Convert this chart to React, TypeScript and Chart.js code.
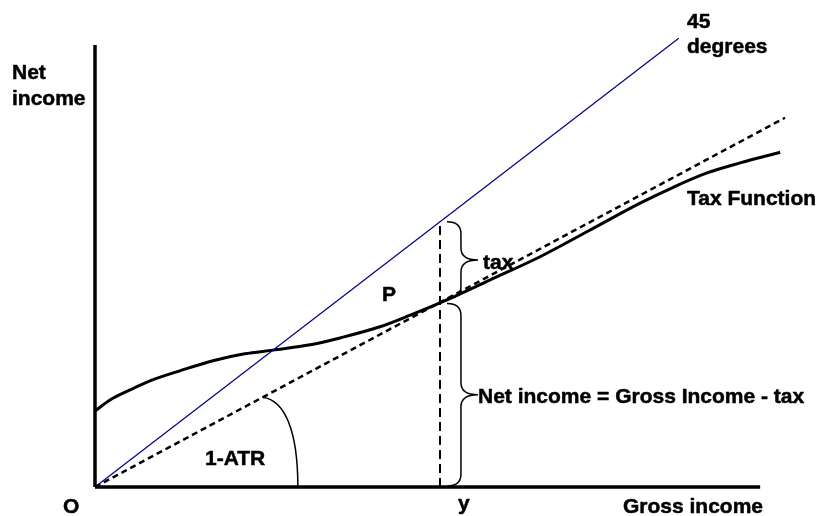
import React, { useEffect, useRef } from "react";
import { Chart, registerables } from "chart.js";

Chart.register(...registerables);

// Tax function curve (gross income -> net income)
const grossIncome = [0, 2.17, 5.07, 7.97, 12.3, 17.1, 21.7, 25.8, 31.2, 35.5, 41.3, 45.7, 50, 57.2, 64.5, 71.7, 79.0, 83.8, 88.7, 93.5, 99.3];
const netIncome = [14.3, 16.4, 18.3, 20.0, 21.9, 23.8, 25.1, 25.8, 26.8, 28.1, 30.2, 32.4, 34.7, 39.0, 43.4, 48.4, 53.5, 56.5, 59.2, 61.1, 63.1];
// 45 degree line
const line45X = [0, 84.6];
const line45Y = [0, 84.6];
// Average-tax-rate ray through P
const atrX = [0, 100];
const atrY = [0, 69.6];
// Income level y
const yIncome = 50;
// Axes extents
const axisXMax = 96.4;
const axisYMax = 83.3;

const FONT = 'bold 21px "Liberation Sans", Arial, sans-serif';

const pts = (xs: number[], ys: number[]) => xs.map((x, i) => ({ x, y: ys[i] }));

export default function App() {
  const ref = useRef<HTMLCanvasElement | null>(null);
  useEffect(() => {
    if (!ref.current) return;
    const annot = {
      id: "annot",
      afterDatasetsDraw(chart: any) {
        const ctx = chart.ctx as CanvasRenderingContext2D;
        const xs = chart.scales.x;
        const ys = chart.scales.y;
        const px = (v: number) => xs.getPixelForValue(v);
        const py = (v: number) => ys.getPixelForValue(v);
        ctx.save();
        ctx.strokeStyle = "#000";
        ctx.lineWidth = 1.5;
        const brace = (x0: number, y0: number, y1: number, w: number) => {
          const xm = x0 + w * 0.45;
          const ym = (y0 + y1) / 2;
          const r = Math.min(12, (y1 - y0) / 4);
          ctx.beginPath();
          ctx.moveTo(x0, y0);
          ctx.quadraticCurveTo(xm, y0, xm, y0 + r);
          ctx.lineTo(xm, ym - r);
          ctx.quadraticCurveTo(xm, ym, x0 + w, ym);
          ctx.quadraticCurveTo(xm, ym, xm, ym + r);
          ctx.lineTo(xm, y1 - r);
          ctx.quadraticCurveTo(xm, y1, x0, y1);
          ctx.stroke();
        };
        const bx = px(yIncome) + 7;
        const yTop = py(yIncome);
        const slope = atrY[1] / atrX[1];
        const yP = py(yIncome * slope);
        const y0 = py(0);
        brace(bx, yTop, yP - 4, 31);
        brace(bx, yP + 1, y0 - 1, 31);

        // 1-ATR arc
        const ax = 24.3;
        const sx = px(ax), sy = py(ax * slope);
        const ex = px(29.4), ey = y0;
        ctx.beginPath();
        ctx.moveTo(sx, sy);
        ctx.bezierCurveTo(sx + 22, sy + 3, ex, sy + 33, ex, ey);
        ctx.stroke();

        // Texts
        ctx.fillStyle = "#000";
        ctx.font = FONT;
        ctx.textBaseline = "alphabetic";
        ctx.textAlign = "left";
        ctx.lineWidth = 0.5;
        ctx.lineJoin = "round";
        const t = (s: string, x: number, y: number) => {
          ctx.fillText(s, x, y);
          ctx.strokeText(s, x, y);
        };
        t("Net", 12, 79);
        t("income", 12, 105);
        t("45", 687, 28);
        t("degrees", 687, 53);
        t("Tax Function", 687, 205);
        t("tax", bx + 36, (yTop + yP) / 2 + 7);
        t("P", 382, 301);
        t("1-ATR", 205, 465);
        t("Net income = Gross Income - tax", bx + 31, (yP + y0) / 2 + 8);
        t("O", 63, 513);
        t("y", 458, 510);
        t("Gross income", 623, 513);
        ctx.restore();
      },
    };
    const chart = new Chart(ref.current, {
      type: "scatter",
      data: {
        datasets: [
          {
            data: [{ x: 0, y: 0 }, { x: 0, y: axisYMax }],
            showLine: true, borderColor: "#000", borderWidth: 3.5, pointRadius: 0, clip: false,
          },
          {
            data: [{ x: 0, y: 0 }, { x: axisXMax, y: 0 }],
            showLine: true, borderColor: "#000", borderWidth: 3.5, pointRadius: 0, clip: false,
          },
          {
            data: pts(line45X, line45Y),
            showLine: true, borderColor: "#000080", borderWidth: 1.2, pointRadius: 0, clip: false,
          },
          {
            data: pts(atrX, atrY),
            showLine: true, borderColor: "#000", borderWidth: 2.5, borderDash: [6, 4], pointRadius: 0, clip: false,
          },
          {
            data: pts(grossIncome, netIncome),
            showLine: true, borderColor: "#000", borderWidth: 3, pointRadius: 0, clip: false,
            cubicInterpolationMode: "monotone",
          },
          {
            data: [{ x: yIncome, y: 0 }, { x: yIncome, y: yIncome }],
            showLine: true, borderColor: "#000", borderWidth: 2, borderDash: [9, 5], pointRadius: 0, clip: false,
          },
        ],
      },
      options: {
        responsive: false,
        animation: false,
        events: [],
        layout: { padding: { left: 95, right: 36, top: 0, bottom: 29 } },
        plugins: { legend: { display: false }, tooltip: { enabled: false }, title: { display: false } },
        scales: {
          x: { type: "linear", min: 0, max: 100, display: false },
          y: { type: "linear", min: 0, max: 91.8, display: false },
        },
      },
      plugins: [annot],
    } as any);
    return () => chart.destroy();
  }, []);
  return (
    <div style={{ position: "fixed", left: 0, top: 0, width: 821, height: 516, background: "#fff" }}>
      <canvas ref={ref} width={821} height={516} />
    </div>
  );
}
